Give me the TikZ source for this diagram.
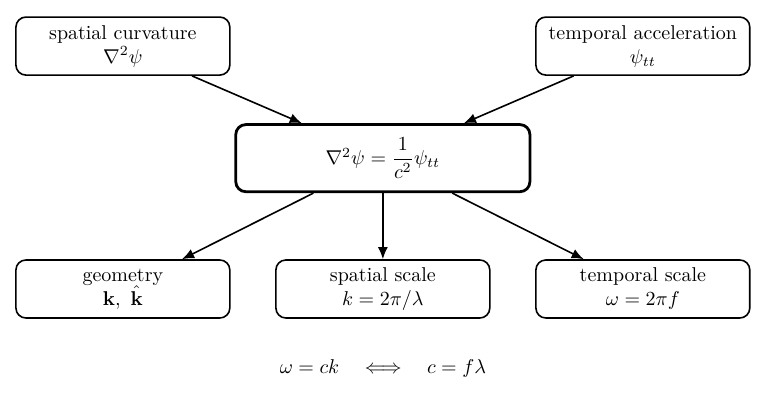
\documentclass[tikz,border=0pt]{standalone}
\usepackage{amsmath}
\usetikzlibrary{arrows.meta}

\begin{document}
\begin{tikzpicture}[
  termbox/.style={draw,rounded corners=5pt,line width=0.8pt,align=center,
    minimum width=3.76cm,minimum height=1.02cm},
  eqbox/.style={draw,rounded corners=5pt,line width=1.4pt,align=center,
    minimum width=5.17cm,minimum height=1.18cm},
  flow/.style={-{Latex[length=6pt,width=5pt]},line width=0.8pt}]
\useasboundingbox (-6.73,-4.29) rectangle (6.77,2.78);

\node[eqbox] (wave) at (0,0) {$\nabla^2\psi = \dfrac{1}{c^2}\psi_{tt}$};

\node[termbox] (curv) at (-4.57,1.97) {spatial curvature\\ $\nabla^2\psi$};
\node[termbox] (accel) at (4.57,1.97) {temporal acceleration\\ $\psi_{tt}$};

\node[termbox] (geom) at (-4.57,-2.3) {geometry\\ $\mathbf{k},\ \hat{\mathbf{k}}$};
\node[termbox] (sscale) at (0,-2.3) {spatial scale\\ $k = 2\pi/\lambda$};
\node[termbox] (tscale) at (4.57,-2.3) {temporal scale\\ $\omega = 2\pi f$};

\draw[flow] (curv) -- (wave);
\draw[flow] (accel) -- (wave);
\draw[flow] (wave) -- (geom);
\draw[flow] (wave) -- (sscale);
\draw[flow] (wave) -- (tscale);

\node (disp) at (0,-3.69) {$\omega = ck \quad\Longleftrightarrow\quad c = f\lambda$};

\end{tikzpicture}
\end{document}
